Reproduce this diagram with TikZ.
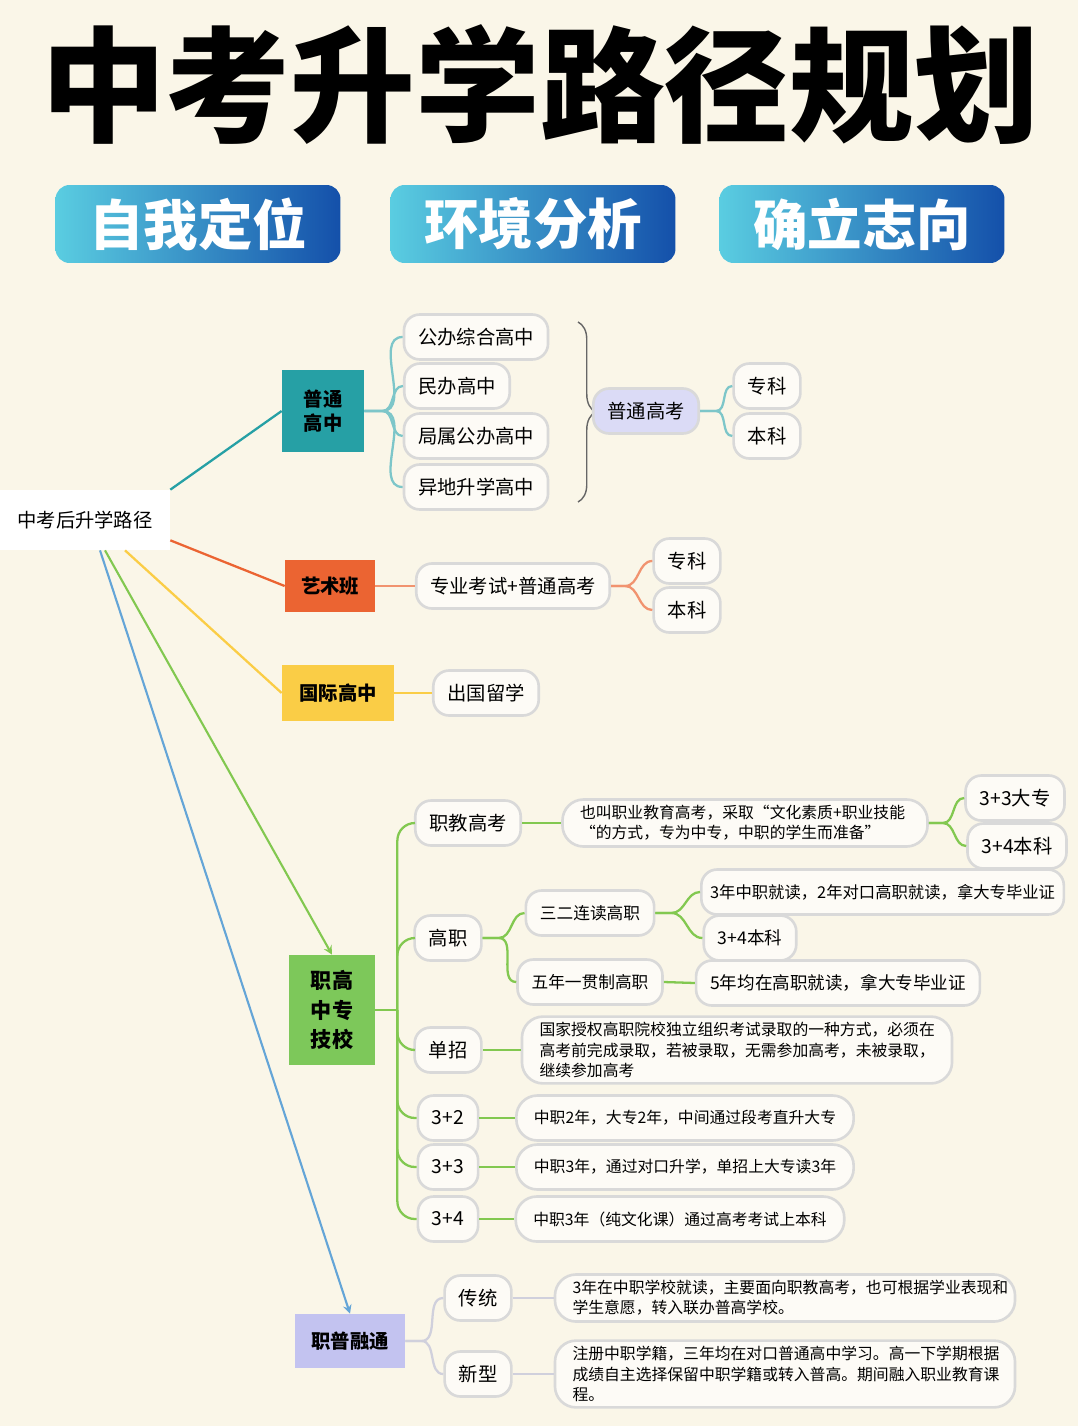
\documentclass[tikz,border=0pt]{standalone}
\usepackage{fontspec}
\setmainfont{Noto Sans CJK SC}
\usetikzlibrary{positioning,calc,decorations.pathreplacing}
\definecolor{bgc}{RGB}{250,246,232}
\definecolor{tealc}{RGB}{38,160,165}
\definecolor{orgc}{RGB}{235,100,50}
\definecolor{yelc}{RGB}{250,205,70}
\definecolor{grnc}{RGB}{125,200,90}
\definecolor{lavc}{RGB}{195,195,240}
\definecolor{bluel}{RGB}{90,205,225}
\definecolor{blued}{RGB}{20,80,170}
\definecolor{linec}{RGB}{130,200,80}
\definecolor{skyc}{RGB}{100,165,215}

\begin{document}
\begin{tikzpicture}[x=0.02cm, y=-0.02cm,
    btn/.style={
        rectangle,
        rounded corners=8pt,
        minimum width=5.7cm,
        minimum height=1.56cm,
        left color=bluel,
        right color=blued,
        text=white,
        font=\fontsize{31}{31}\selectfont\bfseries
    },
    cat/.style={
        rectangle,
        minimum width=1.7cm,
        minimum height=1.05cm,
        align=center,
        font=\fontsize{11}{14}\selectfont\bfseries
    },
    pill/.style={
        rectangle,
        rounded corners=9pt,
        draw=black!15,
        line width=1.5pt,
        fill=white!60!bgc,
        inner xsep=8pt,
        minimum height=0.9cm,
        font=\fontsize{11}{13}\selectfont
    },
    desc/.style={
        pill,
        rounded corners=12pt,
        align=left,
        inner xsep=10pt,
        font=\fontsize{9}{11.5}\selectfont
    },
    conn/.style={line width=1.3pt},
    arrow/.style={->, >=stealth, line width=1.2pt}]

    % Background and title
    \fill[bgc] (0,0) rectangle (1078,1426);
    \useasboundingbox (0,0) rectangle (1078,1426);
    \node (title) at (540,85) {\fontsize{71}{71}\selectfont\bfseries 中考升学路径规划};
    \node[btn] (self) at (198,224) {自我定位};
    \node[btn] (env) at (533,224) {环境分析};
    \node[btn] (goal) at (862,224) {确立志向};

    % Root and categories
    \node[fill=white, minimum width=3.4cm, minimum height=1.2cm, font=\fontsize{11}{13}\selectfont] (root) at (85,520) {中考后升学路径};
    \node[cat, fill=tealc, minimum width=1.64cm, minimum height=1.64cm] (pg) at (323,411) {普通\\高中};
    \node[cat, fill=orgc, minimum width=1.8cm] (ys) at (330,586) {艺术班};
    \node[cat, fill=yelc, minimum width=2.24cm, minimum height=1.12cm] (gj) at (338,693) {国际高中};
    \node[cat, fill=grnc, minimum width=1.72cm, minimum height=2.2cm, font=\fontsize{12}{17}\selectfont\bfseries] (zg) at (332,1010) {职高\\中专\\技校};
    \node[cat, fill=lavc, minimum width=2.2cm, minimum height=1.08cm] (zp) at (350,1341) {职普融通};

    \draw[conn, tealc] (root.north east) -- (pg.west);
    \draw[conn, orgc] ($(root.south east)+(0,-10)$) -- (ys.west);
    \draw[conn, yelc] (root.south) ++(40,0) -- (gj.west);
    \draw[arrow, linec] (root.south) ++(20,0) -- (zg.north);
    \draw[arrow, skyc] (root.south) ++(15,0) -- (zp.north);

    % 普通高中
    \node[pill] (pg1) at (476,337) {公办综合高中};
    \node[pill] (pg2) at (457,386) {民办高中};
    \node[pill] (pg3) at (476,436) {局属公办高中};
    \node[pill] (pg4) at (476,487) {异地升学高中};
    \foreach \n in {pg1,pg2,pg3,pg4}
        \draw[conn, tealc!60] (pg.east) -- ++(18,0) to[out=0,in=180] (\n.west);
    \draw[decorate, decoration={brace, amplitude=10pt}, black!60, thick] (578,322) -- (578,502);
    \node[pill, fill=lavc!60] (pgk) at (646,411) {普通高考};
    \node[pill] (pgzk) at (767,386) {专科};
    \node[pill] (pgbk) at (767,436) {本科};
    \foreach \n in {pgzk,pgbk}
        \draw[conn, tealc!60] (pgk.east) -- ++(16,0) to[out=0,in=180] (\n.west);

    % 艺术班
    \node[pill] (ysk) at (513,586) {专业考试+普通高考};
    \node[pill] (yszk) at (687,561) {专科};
    \node[pill] (ysbk) at (687,610) {本科};
    \draw[conn, orgc!70] (ys.east) -- (ysk.west);
    \foreach \n in {yszk,ysbk}
        \draw[conn, orgc!70] (ysk.east) -- ++(14,0) to[out=0,in=180] (\n.west);

    % 国际高中
    \node[pill] (gjlx) at (486,693) {出国留学};
    \draw[conn, yelc] (gj.east) -- (gjlx.west);

    % 职高中专技校
    \node[pill] (zjgk) at (468,823) {职教高考};
    \node[pill] (gz) at (448,938) {高职};
    \node[pill] (dz) at (448,1050) {单招};
    \node[pill] (s32) at (448,1118) {3+2};
    \node[pill] (s33) at (448,1167) {3+3};
    \node[pill] (s34) at (448,1219) {3+4};
    \draw[conn, linec] (zg.east) -- ++(22,0) coordinate (bus);
    \foreach \n in {zjgk,gz,dz,s32,s33,s34}
        \draw[conn, linec, rounded corners=10pt] (bus) |- (\n.west);

    \node[desc, text width=6.6cm] (zjd) at (745,823) {也叫职业教育高考，采取“文化素质+职业技能\\“的方式，专为中专，中职的学生而准备”};
    \node[pill] (zj33) at (1015,798) {3+3大专};
    \node[pill] (zj34) at (1017,846) {3+4本科};
    \draw[conn, linec] (zjgk.east) -- (zjd.west);
    \foreach \n in {zj33,zj34}
        \draw[conn, linec] (zjd.east) -- ++(14,0) to[out=0,in=180] (\n.west);

    \node[pill, font=\fontsize{9.5}{11}\selectfont] (sel) at (590,913) {三二连读高职};
    \node[pill, font=\fontsize{9.5}{11}\selectfont] (wn) at (590,982) {五年一贯制高职};
    \foreach \n in {sel,wn}
        \draw[conn, linec] (gz.east) -- ++(16,0) to[out=0,in=180] (\n.west);
    \node[pill, anchor=west, inner xsep=5pt, font=\fontsize{9.3}{11}\selectfont] (sel1) at (700,892) {3年中职就读，2年对口高职就读，拿大专毕业证};
    \node[pill, font=\fontsize{10}{12}\selectfont] (sel2) at (750,938) {3+4本科};
    \foreach \n in {sel1,sel2}
        \draw[conn, linec] (sel.east) -- ++(16,0) to[out=0,in=180] (\n.west);
    \node[pill, font=\fontsize{10}{12}\selectfont] (wn1) at (838,983) {5年均在高职就读，拿大专毕业证};
    \draw[conn, linec] (wn.east) -- (wn1.west);

    \node[desc, text width=7.9cm] (dzd) at (737,1050) {国家授权高职院校独立组织考试录取的一种方式，必须在\\高考前完成录取，若被录取，无需参加高考，未被录取，\\继续参加高考};
    \draw[conn, linec] (dz.east) -- (dzd.west);
    \node[desc] (s32d) at (685,1118) {中职2年，大专2年，中间通过段考直升大专};
    \node[desc] (s33d) at (685,1167) {中职3年，通过对口升学，单招上大专读3年};
    \node[desc] (s34d) at (680,1219) {中职3年（纯文化课）通过高考考试上本科};
    \draw[conn, linec] (s32.east) -- (s32d.west);
    \draw[conn, linec] (s33.east) -- (s33d.west);
    \draw[conn, linec] (s34.east) -- (s34d.west);

    % 职普融通
    \node[pill] (ct) at (478,1298) {传统};
    \node[pill] (xx) at (478,1374) {新型};
    \foreach \n in {ct,xx}
        \draw[conn, lavc!70!black!40] (zp.east) -- ++(16,0) to[out=0,in=180] (\n.west);
    \node[desc, text width=8.5cm] (ctd) at (785,1298) {3年在中职学校就读，主要面向职教高考，也可根据学业表现和\\学生意愿，转入联办普高学校。};
    \node[desc, text width=8.5cm] (xxd) at (785,1374) {注册中职学籍，三年均在对口普通高中学习。高一下学期根据\\成绩自主选择保留中职学籍或转入普高。期间融入职业教育课\\程。};
    \draw[conn, lavc!70!black!40] (ct.east) -- (ctd.west);
    \draw[conn, lavc!70!black!40] (xx.east) -- (xxd.west);
\end{tikzpicture}
\end{document}
